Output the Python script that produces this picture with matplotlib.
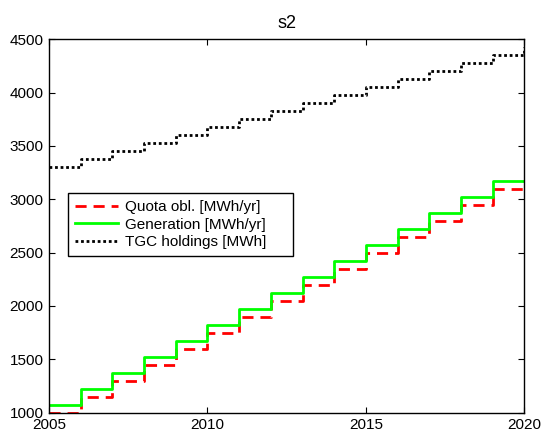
import matplotlib
matplotlib.use("Agg")
import matplotlib.pyplot as plt

plt.rcParams['font.family'] = ['Liberation Sans', 'DejaVu Sans']

# jahre (letzter punkt schliesst die treppe bei 2020 ab)
years = [2005, 2006, 2007, 2008, 2009, 2010, 2011, 2012,
         2013, 2014, 2015, 2016, 2017, 2018, 2019, 2020]
quota = [1000, 1150, 1300, 1450, 1600, 1750, 1900, 2050,
         2200, 2350, 2500, 2650, 2800, 2950, 3100, 3100]
generation = [1070, 1220, 1370, 1520, 1670, 1820, 1970, 2120,
              2270, 2420, 2570, 2720, 2870, 3020, 3170, 3170]
tgc = [3300, 3375, 3450, 3525, 3600, 3675, 3750, 3825,
       3900, 3975, 4050, 4125, 4200, 4275, 4350, 4425]

fig = plt.figure(figsize=(5.45, 4.32), dpi=100)
ax = fig.add_axes([0.090, 0.045, 0.872, 0.864])

ax.step(years, quota, where='post', color='#ff0000', lw=2,
        linestyle=(0, (4, 2.5)), label='Quota obl. [MWh/yr]')
ax.step(years, generation, where='post', color='#00ff00', lw=2,
        label='Generation [MWh/yr]')
ax.step(years, tgc, where='post', color='black', lw=2,
        linestyle=(0, (1, 1)), label='TGC holdings [MWh]')

ax.set_xlim(2005, 2020)
ax.set_ylim(1000, 4500)
ax.set_xticks([2005, 2010, 2015, 2020])
ax.set_yticks(range(1000, 4501, 500))
ax.tick_params(direction='in', top=True, right=True, labelsize=11,
               length=4, width=0.8, pad=4)
for s in ax.spines.values():
    s.set_linewidth(1)
ax.set_title('s2', fontsize=13, pad=8)

# legende wie im matlab-original: breiter kasten, rechts etwas luft
leg = ax.legend(loc='upper left', bbox_to_anchor=(0.04, 0.417, 0.474, 0.17),
                mode='expand', fontsize=11, handlelength=2.8,
                fancybox=False, edgecolor='black', framealpha=1,
                borderpad=0.45, labelspacing=0.22, handletextpad=0.5,
                borderaxespad=0)
leg.get_frame().set_linewidth(1)

fig.savefig('out.png', dpi=100)
